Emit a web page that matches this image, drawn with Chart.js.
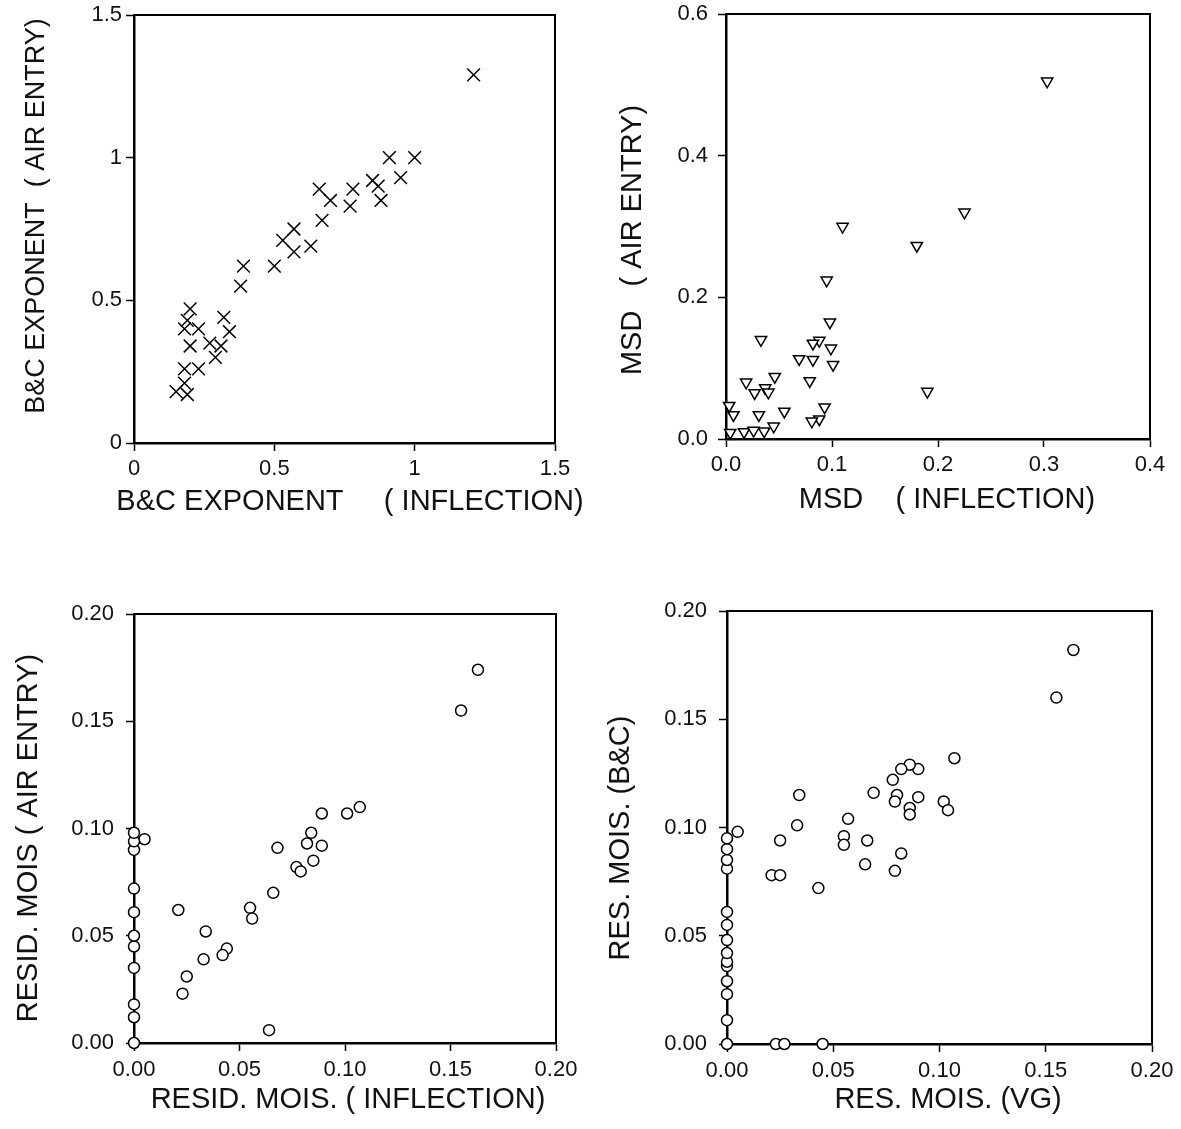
<!DOCTYPE html>
<html>
<head>
<meta charset="utf-8">
<script src="https://cdn.jsdelivr.net/npm/chart.js@4.4.1/dist/chart.umd.min.js"></script>
<style>
  body { margin: 0; background: #fff; }
  .panel { position: absolute; }
</style>
</head>
<body>
<div class="panel" style="left:0;top:0;width:590px;height:520px"><canvas id="p1"></canvas></div>
<div class="panel" style="left:590px;top:0;width:591px;height:520px"><canvas id="p2"></canvas></div>
<div class="panel" style="left:0;top:580px;width:590px;height:537px"><canvas id="p3"></canvas></div>
<div class="panel" style="left:590px;top:580px;width:591px;height:537px"><canvas id="p4"></canvas></div>
<script>
// B&C exponent: inflection (x) vs air entry (y)
const expInflection = [1.21, 0.91, 1.00, 0.95, 0.85, 0.87, 0.88, 0.78, 0.77, 0.66, 0.70, 0.67, 0.63, 0.57, 0.57, 0.53, 0.50, 0.39, 0.38,
  0.20, 0.19, 0.18, 0.23, 0.20, 0.27, 0.31, 0.32, 0.34, 0.29, 0.23, 0.18, 0.18, 0.15, 0.19];
const expAirEntry = [1.29, 1.00, 1.00, 0.93, 0.92, 0.90, 0.85, 0.89, 0.83, 0.89, 0.85, 0.78, 0.69, 0.75, 0.67, 0.71, 0.62, 0.62, 0.55,
  0.47, 0.43, 0.40, 0.40, 0.34, 0.35, 0.34, 0.44, 0.39, 0.30, 0.26, 0.26, 0.21, 0.18, 0.17];

// MSD: inflection (x) vs air entry (y)
const msdInflection = [0.303, 0.225, 0.18, 0.11, 0.095, 0.098, 0.088, 0.082, 0.099, 0.101, 0.069, 0.082, 0.079, 0.033, 0.046, 0.019,
  0.027, 0.037, 0.19, 0.093, 0.088, 0.081, 0.055, 0.031, 0.045, 0.036, 0.017, 0.004, 0.007, 0.003, 0.026, 0.040];
const msdAirEntry = [0.505, 0.32, 0.273, 0.30, 0.224, 0.165, 0.139, 0.135, 0.128, 0.105, 0.113, 0.112, 0.082, 0.140, 0.088, 0.080,
  0.065, 0.072, 0.067, 0.045, 0.028, 0.025, 0.039, 0.034, 0.018, 0.011, 0.010, 0.009, 0.034, 0.047, 0.012, 0.066];

// residual moisture: inflection (x) vs air entry (y)
const residInflection = [0.163, 0.155, 0.107, 0.101, 0.089, 0.084, 0.082, 0.089, 0.085, 0.077, 0.079, 0.068, 0.066, 0.055, 0.056,
  0.044, 0.042, 0.034, 0.033, 0.021, 0.025, 0.023, 0.064, 0.005, 0, 0, 0, 0, 0, 0, 0, 0, 0, 0, 0];
const residAirEntry = [0.174, 0.155, 0.110, 0.107, 0.107, 0.098, 0.093, 0.092, 0.085, 0.082, 0.080, 0.091, 0.070, 0.063, 0.058,
  0.044, 0.041, 0.052, 0.039, 0.062, 0.031, 0.023, 0.006, 0.095, 0.0, 0.012, 0.018, 0.035, 0.045, 0.050, 0.061, 0.072, 0.090, 0.094, 0.098];

// residual moisture: VG (x) vs B&C (y)
const resVG = [0.163, 0.155, 0.107, 0.102, 0.104, 0.090, 0.086, 0.082, 0.078, 0.080, 0.079, 0.090, 0.086, 0.086, 0.082, 0.079,
  0.069, 0.066, 0.065, 0.057, 0.055, 0.055, 0.043, 0.034, 0.033, 0.025, 0.021, 0.025, 0.005, 0.023, 0.027, 0.045,
  0, 0, 0, 0, 0, 0, 0, 0, 0, 0, 0, 0, 0, 0];
const resBC = [0.182, 0.160, 0.132, 0.112, 0.108, 0.127, 0.129, 0.127, 0.122, 0.115, 0.112, 0.114, 0.109, 0.106, 0.088, 0.080,
  0.116, 0.094, 0.083, 0.104, 0.096, 0.092, 0.072, 0.115, 0.101, 0.094, 0.078, 0.078, 0.098, 0, 0, 0,
  0, 0.011, 0.023, 0.029, 0.036, 0.038, 0.042, 0.048, 0.055, 0.061, 0.081, 0.085, 0.090, 0.095];

// tick labels
const expTicks = ["0", "0.5", "1", "1.5"];
const msdXTicks = ["0.0", "0.1", "0.2", "0.3", "0.4"];
const msdYTicks = ["0.0", "0.2", "0.4", "0.6"];
const residTicks = ["0.00", "0.05", "0.10", "0.15", "0.20"];

Chart.defaults.font.family = "'Liberation Sans', Arial, sans-serif";
Chart.defaults.color = "#111";

// top and right sides of the box
const frame = {
  id: "frame",
  beforeDatasetsDraw(chart) {
    const { ctx, chartArea: a } = chart;
    ctx.save();
    ctx.strokeStyle = "#000";
    ctx.lineWidth = 2;
    ctx.beginPath();
    ctx.moveTo(a.left, a.top);
    ctx.lineTo(a.right, a.top);
    ctx.lineTo(a.right, a.bottom);
    ctx.stroke();
    ctx.restore();
  },
};

// axis titles drawn by hand so they are not squeezed to the axis width
const axisTitles = {
  id: "axisTitles",
  afterDraw(chart, args, opts) {
    const { ctx } = chart;
    ctx.save();
    ctx.fillStyle = "#111";
    ctx.textAlign = "center";
    ctx.textBaseline = "middle";
    ctx.font = (opts.x.size || 29) + "px 'Liberation Sans', Arial, sans-serif";
    ctx.fillText(opts.x.text, opts.x.cx, opts.x.cy);
    ctx.font = (opts.y.size || 29) + "px 'Liberation Sans', Arial, sans-serif";
    ctx.translate(opts.y.cx, opts.y.cy);
    ctx.rotate(-Math.PI / 2);
    ctx.fillText(opts.y.text, 0, 0);
    ctx.restore();
  },
};

const axis = (labels, max, size, tickPad) => ({
  type: "linear",
  min: 0,
  max: max,
  border: { display: true, color: "#000", width: 2.5 },
  grid: { drawOnChartArea: false, drawTicks: true, tickLength: 8, tickWidth: 1.5, tickColor: "#000" },
  ticks: {
    count: labels.length,
    padding: tickPad,
    font: { size: 22 },
    callback: (v, i) => labels[i],
  },
  afterFit: (scale) => {
    if (scale.isHorizontal()) scale.height = size;
    else scale.width = size;
    scale.paddingTop = 0;
    scale.paddingBottom = 0;
  },
});

const createPanel = (id, xs, ys, marker, x, y, layout, titles) => {
  const points = xs.map((v, i) => ({ x: v, y: ys[i] }));
  return new Chart(document.getElementById(id), {
    type: "scatter",
    data: {
      datasets: [
        {
          data: points,
          clip: false,
          pointStyle: marker.style,
          rotation: marker.rotation || 0,
          pointRadius: marker.radius,
          pointBorderWidth: 1.5,
          pointBorderColor: "#000",
          pointBackgroundColor: marker.fill,
        },
      ],
    },
    options: {
      animation: false,
      responsive: true,
      maintainAspectRatio: false,
      layout: { padding: { top: layout.top, right: layout.right, left: 0, bottom: 0 } },
      plugins: { legend: { display: false }, tooltip: { enabled: false }, axisTitles: titles },
      scales: { x: x, y: y },
    },
    plugins: [frame, axisTitles],
  });
};

createPanel("p1", expInflection, expAirEntry, { style: "crossRot", radius: 9, fill: "rgba(0,0,0,0)" },
  axis(expTicks, 1.5, 77, 5),
  axis(expTicks, 1.5, 134, 4),
  { top: 15, right: 35 },
  { x: { text: "B&C EXPONENT     ( INFLECTION)", cx: 350, cy: 502 },
    y: { text: "B&C EXPONENT  ( AIR ENTRY)", cx: 37, cy: 216, size: 27 } });

createPanel("p2", msdInflection, msdAirEntry, { style: "triangle", rotation: 180, radius: 6.5, fill: "#fff" },
  axis(msdXTicks, 0.4, 81, 5),
  axis(msdYTicks, 0.6, 136, 10),
  { top: 14, right: 31 },
  { x: { text: "MSD    ( INFLECTION)", cx: 357, cy: 500 },
    y: { text: "MSD   ( AIR ENTRY)", cx: 43, cy: 240 } });

createPanel("p3", residInflection, residAirEntry, { style: "circle", radius: 5.5, fill: "#fff" },
  axis(residTicks, 0.2, 74, 6),
  axis(residTicks, 0.2, 134, 12),
  { top: 34, right: 34 },
  { x: { text: "RESID. MOIS. ( INFLECTION)", cx: 348, cy: 520 },
    y: { text: "RESID. MOIS ( AIR ENTRY)", cx: 29, cy: 258 } });

createPanel("p4", resVG, resBC, { style: "circle", radius: 5.5, fill: "#fff" },
  axis(residTicks, 0.2, 73, 6),
  axis(residTicks, 0.2, 137, 12),
  { top: 31, right: 29 },
  { x: { text: "RES. MOIS. (VG)", cx: 358, cy: 520 },
    y: { text: "RES. MOIS. (B&C)", cx: 31, cy: 258 } });
</script>
</body>
</html>
